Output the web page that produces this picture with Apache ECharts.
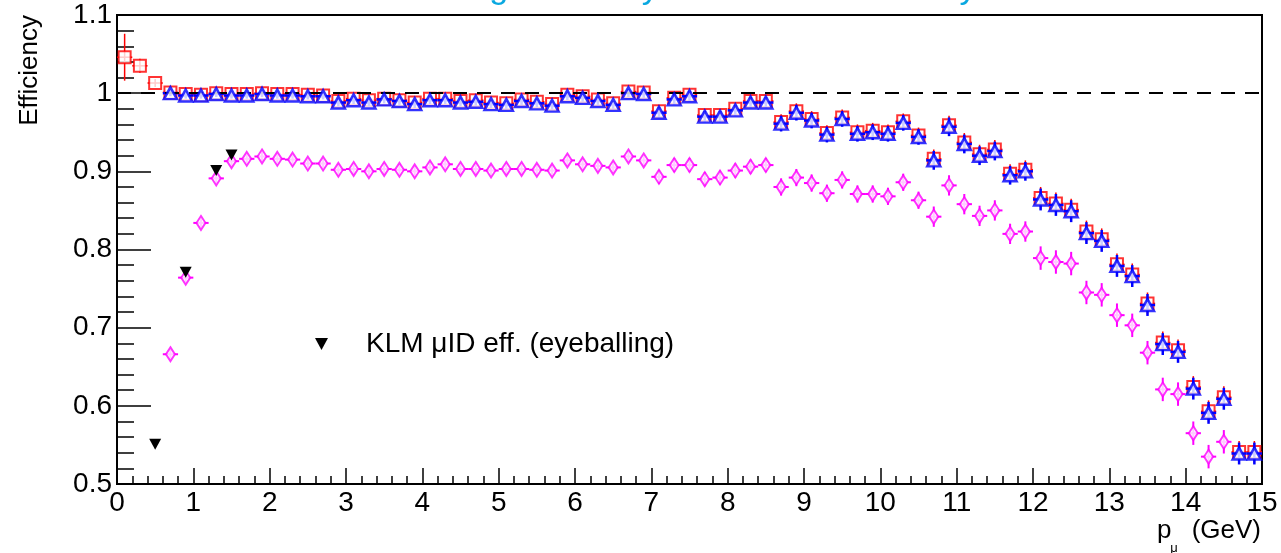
<!DOCTYPE html>
<html>
<head>
<meta charset="utf-8">
<title>Tracking efficiency × muon ID efficiency</title>
<script src="https://cdn.jsdelivr.net/npm/echarts@6/dist/echarts.min.js"></script>
<style>
  html, body { margin: 0; padding: 0; background: #fff; }
  #chart { width: 1281px; height: 553px; }
</style>
</head>
<body>
<div id="chart"></div>
<script>
// Momentum bin centres (GeV), 0.2 GeV wide bins
const binCentres = [
  0.1, 0.3, 0.5, 0.7, 0.9, 1.1, 1.3, 1.5, 1.7, 1.9,
  2.1, 2.3, 2.5, 2.7, 2.9, 3.1, 3.3, 3.5, 3.7, 3.9,
  4.1, 4.3, 4.5, 4.7, 4.9, 5.1, 5.3, 5.5, 5.7, 5.9,
  6.1, 6.3, 6.5, 6.7, 6.9, 7.1, 7.3, 7.5, 7.7, 7.9,
  8.1, 8.3, 8.5, 8.7, 8.9, 9.1, 9.3, 9.5, 9.7, 9.9,
  10.1, 10.3, 10.5, 10.7, 10.9, 11.1, 11.3, 11.5, 11.7, 11.9,
  12.1, 12.3, 12.5, 12.7, 12.9, 13.1, 13.3, 13.5, 13.7, 13.9,
  14.1, 14.3, 14.5, 14.7, 14.9
];
const BIN_HALF_WIDTH = 0.1;

// Tracking efficiency (open red squares)
const trackEff = [
  1.046, 1.035, 1.013, 1.001, 0.999, 0.998, 1.000, 0.999, 0.999, 1.000,
  0.999, 0.999, 0.998, 0.997, 0.990, 0.993, 0.991, 0.993, 0.991, 0.988,
  0.993, 0.993, 0.990, 0.991, 0.988, 0.987, 0.992, 0.989, 0.986, 0.998,
  0.996, 0.992, 0.987, 1.002, 1.001, 0.977, 0.994, 0.998, 0.972, 0.972,
  0.980, 0.990, 0.990, 0.963, 0.977, 0.967, 0.949, 0.969, 0.950, 0.952,
  0.950, 0.964, 0.946, 0.916, 0.959, 0.937, 0.922, 0.928, 0.897, 0.902,
  0.866, 0.859, 0.851, 0.823, 0.813, 0.781, 0.768, 0.731, 0.681, 0.671,
  0.624, 0.593, 0.611, 0.541, 0.541
];

// Tracking efficiency with muon selection (open blue triangles)
const trackMuEff = [
  null, null, null, 1.000, 0.997, 0.997, 0.999, 0.997, 0.997, 0.999,
  0.997, 0.997, 0.996, 0.996, 0.988, 0.991, 0.988, 0.992, 0.990, 0.986,
  0.991, 0.991, 0.988, 0.989, 0.986, 0.985, 0.990, 0.987, 0.984, 0.996,
  0.994, 0.990, 0.985, 1.000, 0.999, 0.975, 0.992, 0.996, 0.970, 0.970,
  0.978, 0.988, 0.988, 0.961, 0.975, 0.965, 0.947, 0.967, 0.948, 0.950,
  0.948, 0.962, 0.944, 0.914, 0.957, 0.935, 0.920, 0.926, 0.895, 0.900,
  0.864, 0.857, 0.849, 0.821, 0.811, 0.779, 0.766, 0.729, 0.679, 0.669,
  0.622, 0.591, 0.609, 0.539, 0.539
];

// Statistical uncertainty shared by the two tracking curves
const trackErr = [
  0.030, 0.009, 0.005, 0.004, 0.004, 0.004, 0.004, 0.004, 0.004, 0.004,
  0.004, 0.004, 0.004, 0.004, 0.005, 0.005, 0.005, 0.005, 0.005, 0.005,
  0.005, 0.005, 0.005, 0.005, 0.005, 0.005, 0.005, 0.005, 0.005, 0.005,
  0.005, 0.005, 0.005, 0.005, 0.005, 0.007, 0.007, 0.007, 0.007, 0.007,
  0.007, 0.007, 0.007, 0.010, 0.010, 0.010, 0.010, 0.010, 0.010, 0.010,
  0.010, 0.010, 0.010, 0.012, 0.012, 0.012, 0.012, 0.012, 0.012, 0.012,
  0.014, 0.014, 0.014, 0.014, 0.014, 0.014, 0.014, 0.014, 0.014, 0.014,
  0.014, 0.014, 0.014, 0.014, 0.014
];

// Tracking × muon ID efficiency (open magenta diamonds)
const combinedEff = [
  null, null, null, 0.666, 0.764, 0.834, 0.891, 0.913, 0.916, 0.919,
  0.916, 0.915, 0.910, 0.910, 0.902, 0.903, 0.900, 0.903, 0.902, 0.900,
  0.905, 0.909, 0.903, 0.903, 0.901, 0.903, 0.903, 0.902, 0.901, 0.914,
  0.909, 0.907, 0.905, 0.919, 0.914, 0.893, 0.908, 0.908, 0.890, 0.892,
  0.901, 0.906, 0.908, 0.880, 0.892, 0.885, 0.872, 0.889, 0.871, 0.871,
  0.868, 0.886, 0.863, 0.842, 0.882, 0.858, 0.843, 0.850, 0.820, 0.823,
  0.789, 0.784, 0.782, 0.745, 0.742, 0.716, 0.703, 0.668, 0.621, 0.615,
  0.565, 0.535, 0.554, null, null
];
const combinedErr = [
  null, null, null, 0.006, 0.006, 0.006, 0.006, 0.006, 0.006, 0.006,
  0.006, 0.006, 0.006, 0.006, 0.007, 0.007, 0.007, 0.007, 0.007, 0.007,
  0.007, 0.007, 0.007, 0.007, 0.007, 0.007, 0.007, 0.007, 0.007, 0.007,
  0.007, 0.007, 0.007, 0.007, 0.007, 0.009, 0.009, 0.009, 0.009, 0.009,
  0.009, 0.009, 0.009, 0.011, 0.011, 0.011, 0.011, 0.011, 0.011, 0.011,
  0.011, 0.011, 0.011, 0.013, 0.013, 0.013, 0.013, 0.013, 0.013, 0.013,
  0.015, 0.015, 0.015, 0.015, 0.015, 0.015, 0.015, 0.015, 0.015, 0.015,
  0.015, 0.015, 0.015, null, null
];

// KLM muon ID efficiency read by eye
const klmP = [0.5, 0.9, 1.3, 1.5];
const klmEff = [0.551, 0.771, 0.901, 0.921];

const yTicks = [0.5, 0.6, 0.7, 0.8, 0.9, 1.0, 1.1];

const FONT = '"Liberation Sans", Arial, Helvetica, sans-serif';

function points(values, errors) {
  const out = [];
  binCentres.forEach((x, i) => {
    if (values[i] != null) out.push([x, values[i], errors[i]]);
  });
  return out;
}

// Vertical (statistical) and horizontal (bin width) error bars
function errorBars(color, width) {
  return function (params, api) {
    const x = api.value(0), y = api.value(1), e = api.value(2);
    const c = api.coord([x, y]);
    const hi = api.coord([x, y + e]);
    const lo = api.coord([x, y - e]);
    const l = api.coord([x - BIN_HALF_WIDTH, y]);
    const r = api.coord([x + BIN_HALF_WIDTH, y]);
    const st = { stroke: color, lineWidth: width };
    return {
      type: 'group',
      children: [
        { type: 'line', shape: { x1: c[0], y1: hi[1], x2: c[0], y2: lo[1] }, style: st },
        { type: 'line', shape: { x1: l[0], y1: c[1], x2: r[0], y2: c[1] }, style: st }
      ]
    };
  };
}

const trackPts = points(trackEff, trackErr);
const trackMuPts = points(trackMuEff, trackErr);
const combinedPts = points(combinedEff, combinedErr);
const klmPts = klmP.map((p, i) => [p, klmEff[i]]);

const chart = echarts.init(document.getElementById('chart'), null, { renderer: 'canvas' });

chart.setOption({
  animation: false,
  backgroundColor: '#fff',
  textStyle: { fontFamily: FONT },
  grid: {
    left: 117, right: 19, top: 15, bottom: 69,
    show: true, borderColor: '#000', borderWidth: 2, backgroundColor: 'transparent'
  },
  legend: {
    data: ['KLM μID eff. (eyeballing)'],
    left: 310, top: 325,
    itemWidth: 13, itemHeight: 12,
    itemStyle: { color: '#000', opacity: 1 },
    textStyle: { fontSize: 28, color: '#000', fontFamily: FONT, padding: [0, 0, 0, 33] },
    selectedMode: false
  },
  xAxis: {
    type: 'value', min: 0, max: 15, interval: 1,
    axisLine: { show: true, onZero: false, lineStyle: { color: '#000', width: 2 } },
    axisTick: { show: true, inside: true, length: 16, lineStyle: { color: '#000', width: 1.5 } },
    minorTick: { show: true, splitNumber: 5, length: 8, lineStyle: { color: '#000', width: 1.5 } },
    splitLine: { show: false },
    axisLabel: { fontSize: 28, color: '#000', margin: 5, fontFamily: FONT }
  },
  yAxis: {
    type: 'value', min: yTicks[0], max: yTicks[yTicks.length - 1], interval: 0.1,
    axisLine: { show: true, onZero: false, lineStyle: { color: '#000', width: 2 } },
    axisTick: { show: true, inside: true, length: 34, lineStyle: { color: '#000', width: 1.5 } },
    minorTick: { show: true, splitNumber: 5, length: 17, lineStyle: { color: '#000', width: 1.5 } },
    splitLine: { show: false },
    axisLabel: {
      fontSize: 28, color: '#000', margin: 5, fontFamily: FONT,
      formatter: v => String(+v.toFixed(1))
    }
  },
  graphic: [
    {
      type: 'text', left: 379, top: -28, silent: true,
      style: { text: 'Tracking efficiency × muon ID efficiency', fill: '#0AA8E0', font: '34px ' + FONT }
    },
    {
      type: 'text', x: 30, y: 15, rotation: Math.PI / 2, silent: true,
      style: { text: 'Efficiency', fill: '#000', font: '26px ' + FONT, align: 'right', verticalAlign: 'middle' }
    },
    {
      type: 'text', x: 1157, y: 531, silent: true,
      style: { text: 'p', fill: '#000', font: '26px ' + FONT, align: 'left', verticalAlign: 'middle' }
    },
    {
      type: 'text', x: 1174, y: 548, silent: true,
      style: { text: 'μ', fill: '#000', font: '13px ' + FONT, align: 'center', verticalAlign: 'middle' }
    },
    {
      type: 'text', x: 1261, y: 531, silent: true,
      style: { text: '(GeV)', fill: '#000', font: '26px ' + FONT, align: 'right', verticalAlign: 'middle' }
    }
  ],
  series: [
    {
      type: 'line', data: [], silent: true, z: 1,
      markLine: {
        silent: true, symbol: 'none', animation: false,
        label: { show: false },
        lineStyle: { color: '#000', width: 2, type: [14, 10] },
        data: [{ yAxis: 1 }]
      }
    },
    {
      name: 'tracking err', type: 'custom', z: 2, clip: true,
      renderItem: errorBars('#ff0000', 1.5), data: trackPts,
      encode: { x: 0, y: 1 }, silent: true
    },
    {
      name: 'tracking', type: 'scatter', z: 3, data: trackPts,
      symbol: 'rect', symbolSize: 12,
      itemStyle: { color: '#fff', borderColor: '#ff0000', borderWidth: 2 },
      emphasis: { disabled: true }, silent: true
    },
    {
      name: 'tracking mu err', type: 'custom', z: 4, clip: true,
      renderItem: errorBars('#0000ff', 2.5), data: trackMuPts,
      encode: { x: 0, y: 1 }, silent: true
    },
    {
      name: 'tracking mu', type: 'scatter', z: 5, data: trackMuPts,
      symbol: 'triangle', symbolSize: [13, 12],
      itemStyle: { color: '#fff', borderColor: '#0000ff', borderWidth: 2.5 },
      emphasis: { disabled: true }, silent: true
    },
    {
      name: 'combined err', type: 'custom', z: 6, clip: true,
      renderItem: errorBars('#ff00ff', 2), data: combinedPts,
      encode: { x: 0, y: 1 }, silent: true
    },
    {
      name: 'combined', type: 'scatter', z: 7, data: combinedPts,
      symbol: 'diamond', symbolSize: [9, 14],
      itemStyle: { color: '#fff', borderColor: '#ff00ff', borderWidth: 2 },
      emphasis: { disabled: true }, silent: true
    },
    {
      name: 'KLM μID eff. (eyeballing)', type: 'scatter', z: 8, data: klmPts,
      symbol: 'path://M0,0L12,0L6,11Z', symbolSize: [12, 11],
      itemStyle: { color: '#000', opacity: 1 },
      emphasis: { disabled: true }, silent: true
    }
  ]
});
</script>
</body>
</html>
